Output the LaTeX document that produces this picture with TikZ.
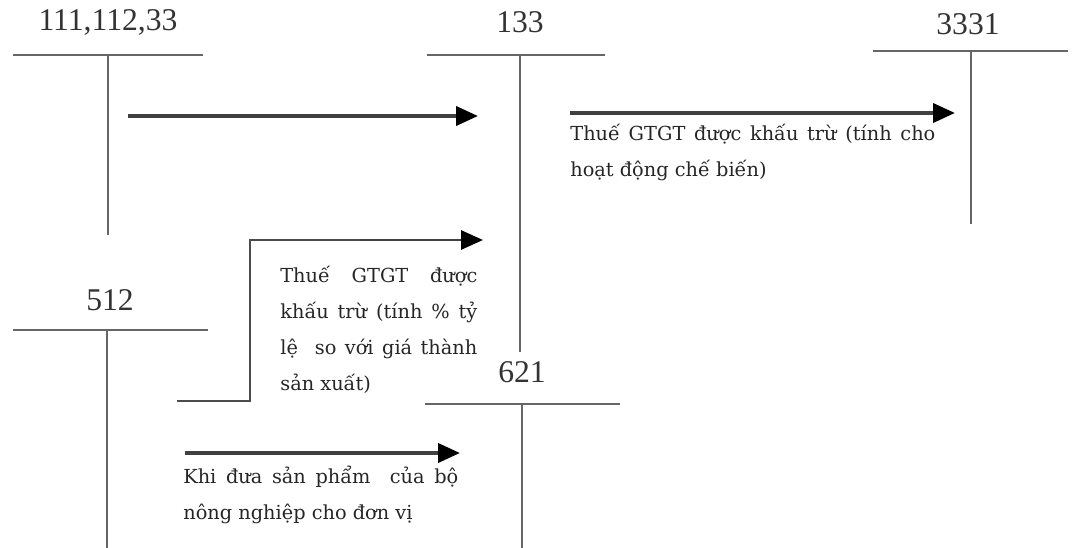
\documentclass[tikz,border=0pt]{standalone}
\usepackage{fontspec}
\setmainfont{Liberation Serif}
\newfontfamily\notefont{DejaVu Serif}
\usetikzlibrary{arrows.meta,positioning}

\begin{document}
\begin{tikzpicture}[
  x=0.2mm, y=-0.2mm,
  >={Triangle[length=4.4mm,width=3.8mm,color=black]},
  lbl/.style={font=\fontsize{18}{20}\selectfont, text=black!80, inner sep=0pt},
  tln/.style={draw=black!60, line width=1.1pt},
  pst/.style={->, draw=black!75, line width=2.2pt},
  thn/.style={draw=black!70, line width=1.2pt},
  nte/.style={font=\notefont\fontsize{11}{20.5}\selectfont, text=black!85,
    align=justify, inner sep=0pt, anchor=north west}
]
\useasboundingbox (0,0) rectangle (1074,548);

% Tai khoan
\node[lbl] (k111)  at (108,22)  {111,112,33};
\node[lbl] (k133)  at (520,22)  {133};
\node[lbl] (k3331) at (968,24)  {3331};
\node[lbl] (k512)  at (110,300) {512};
\node[lbl] (k621)  at (522,372) {621};

% -- Chu T --
\draw[tln] (13,55) -- (203,55)   (108,55) -- (108,235);
\draw[tln] (427,55) -- (605,55)  (520,55) -- (520,352);
\draw[tln] (873,51) -- (1068,51) (971,51) -- (971,224);
\draw[tln] (13,330) -- (208,330) (107,330) -- (107,548);
\draw[tln] (425,404) -- (620,404) (522,404) -- (522,548);

% -- Diem dau / cuoi --
\coordinate (p1a) at (128,116);
\coordinate (p1b) at (478,116);
\coordinate (p2a) at (570,113);
\coordinate (p2b) at (955,113);
\coordinate (p3a) at (177,401);
\coordinate (p3k) at (250,401);
\coordinate (p3m) at (360,240);
\coordinate (p3b) at (483,240);
\coordinate (p4a) at (185,453);
\coordinate (p4b) at (460,453);

% -- But toan --
\draw[pst] (p1a) -- (p1b);
\draw[pst] (p2a) -- (p2b);
\draw[thn] (p3a) -- (p3k) |- (p3m);
\draw[pst, line width=1.6pt] (p3m) -- (p3b);
\draw[pst] (p4a) -- (p4b);

% -- Dien giai --
\node[nte, text width=7.3cm] (n1) at (570,124)
  {Thuế GTGT được khấu trừ (tính cho\linebreak hoạt động chế biến)};
\node[nte, text width=3.94cm] (n2) at (280,266)
  {Thuế GTGT được\linebreak khấu trừ (tính \% tỷ\linebreak lệ\ \ so với giá thành\linebreak sản xuất)};
\node[nte, text width=5.5cm] (n3) at (183,466)
  {Khi đưa sản phẩm\ \ của bộ\linebreak nông nghiệp cho đơn vị};

\end{tikzpicture}
\end{document}
